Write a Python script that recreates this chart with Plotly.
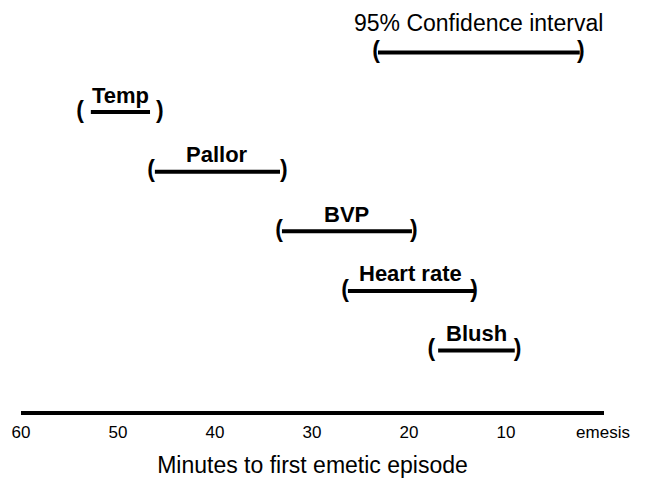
import plotly.graph_objects as go

# Data (minutes to first emetic episode)
labels = ["95% Confidence interval", "Temp", "Pallor", "BVP", "Heart rate", "Blush"]
rows = [6, 5, 4, 3, 2, 1]
bar_start = [23.2, 52.8, 46.2, 33.1, 26.3, 17.0]
bar_end = [2.4, 46.7, 33.3, 19.7, 13.3, 9.1]
ci_low = [23.4, 53.9, 46.6, 33.4, 26.6, 17.7]
ci_high = [2.3, 45.7, 32.9, 19.5, 13.3, 8.8]

tick_vals = [60, 50, 40, 30, 20, 10, 0]
tick_text = ["60", "50", "40", "30", "20", "10", "emesis"]
x_title = "Minutes to first emetic episode"

FONT = "Liberation Sans, Arial, Helvetica, sans-serif"

fig = go.Figure()

for lab, r, s, e in zip(labels, rows, bar_start, bar_end):
    fig.add_trace(go.Scatter(x=[s, e], y=[r, r], mode="lines",
                             line=dict(color="black", width=4),
                             hoverinfo="skip", showlegend=False))

fig.add_trace(go.Scatter(x=ci_low, y=rows, mode="text", text=["<b>(</b>"] * len(rows),
                         textposition="middle center",
                         textfont=dict(family=FONT, size=23, color="black"),
                         showlegend=False, hoverinfo="skip"))
fig.add_trace(go.Scatter(x=ci_high, y=rows, mode="text", text=["<b>)</b>"] * len(rows),
                         textposition="middle center",
                         textfont=dict(family=FONT, size=23, color="black"),
                         showlegend=False, hoverinfo="skip"))

for i, (lab, r, s, e) in enumerate(zip(labels, rows, bar_start, bar_end)):
    if i == 0:
        txt, fs, ys = lab, 23, 30
    else:
        txt, fs, ys = "<b>" + lab + "</b>", 22, 17
    fig.add_annotation(x=(s + e) / 2, y=r, xref="x", yref="y", text=txt,
                       showarrow=False, yshift=ys,
                       font=dict(family=FONT, size=fs, color="black"),
                       xanchor="center", yanchor="middle")

fig.update_layout(
    width=647, height=480,
    margin=dict(l=21, r=43, t=10, b=69, autoexpand=False),
    paper_bgcolor="white", plot_bgcolor="white",
    font=dict(family=FONT, color="black"),
    xaxis=dict(range=[60.0, -0.1], showgrid=False, zeroline=False,
               showline=True, linecolor="black", linewidth=4,
               automargin=False,
               tickmode="array", tickvals=tick_vals, ticktext=tick_text,
               ticks="", ticklabelstandoff=3,
               tickfont=dict(family=FONT, size=17, color="black"),
               title=dict(text=x_title, font=dict(family=FONT, size=23, color="black"),
                          standoff=16)),
    yaxis=dict(range=[-0.015, 6.713], visible=False),
)

fig.write_html("out.html", config={"displayModeBar": False},
               post_script="document.body.style.margin='0';")
